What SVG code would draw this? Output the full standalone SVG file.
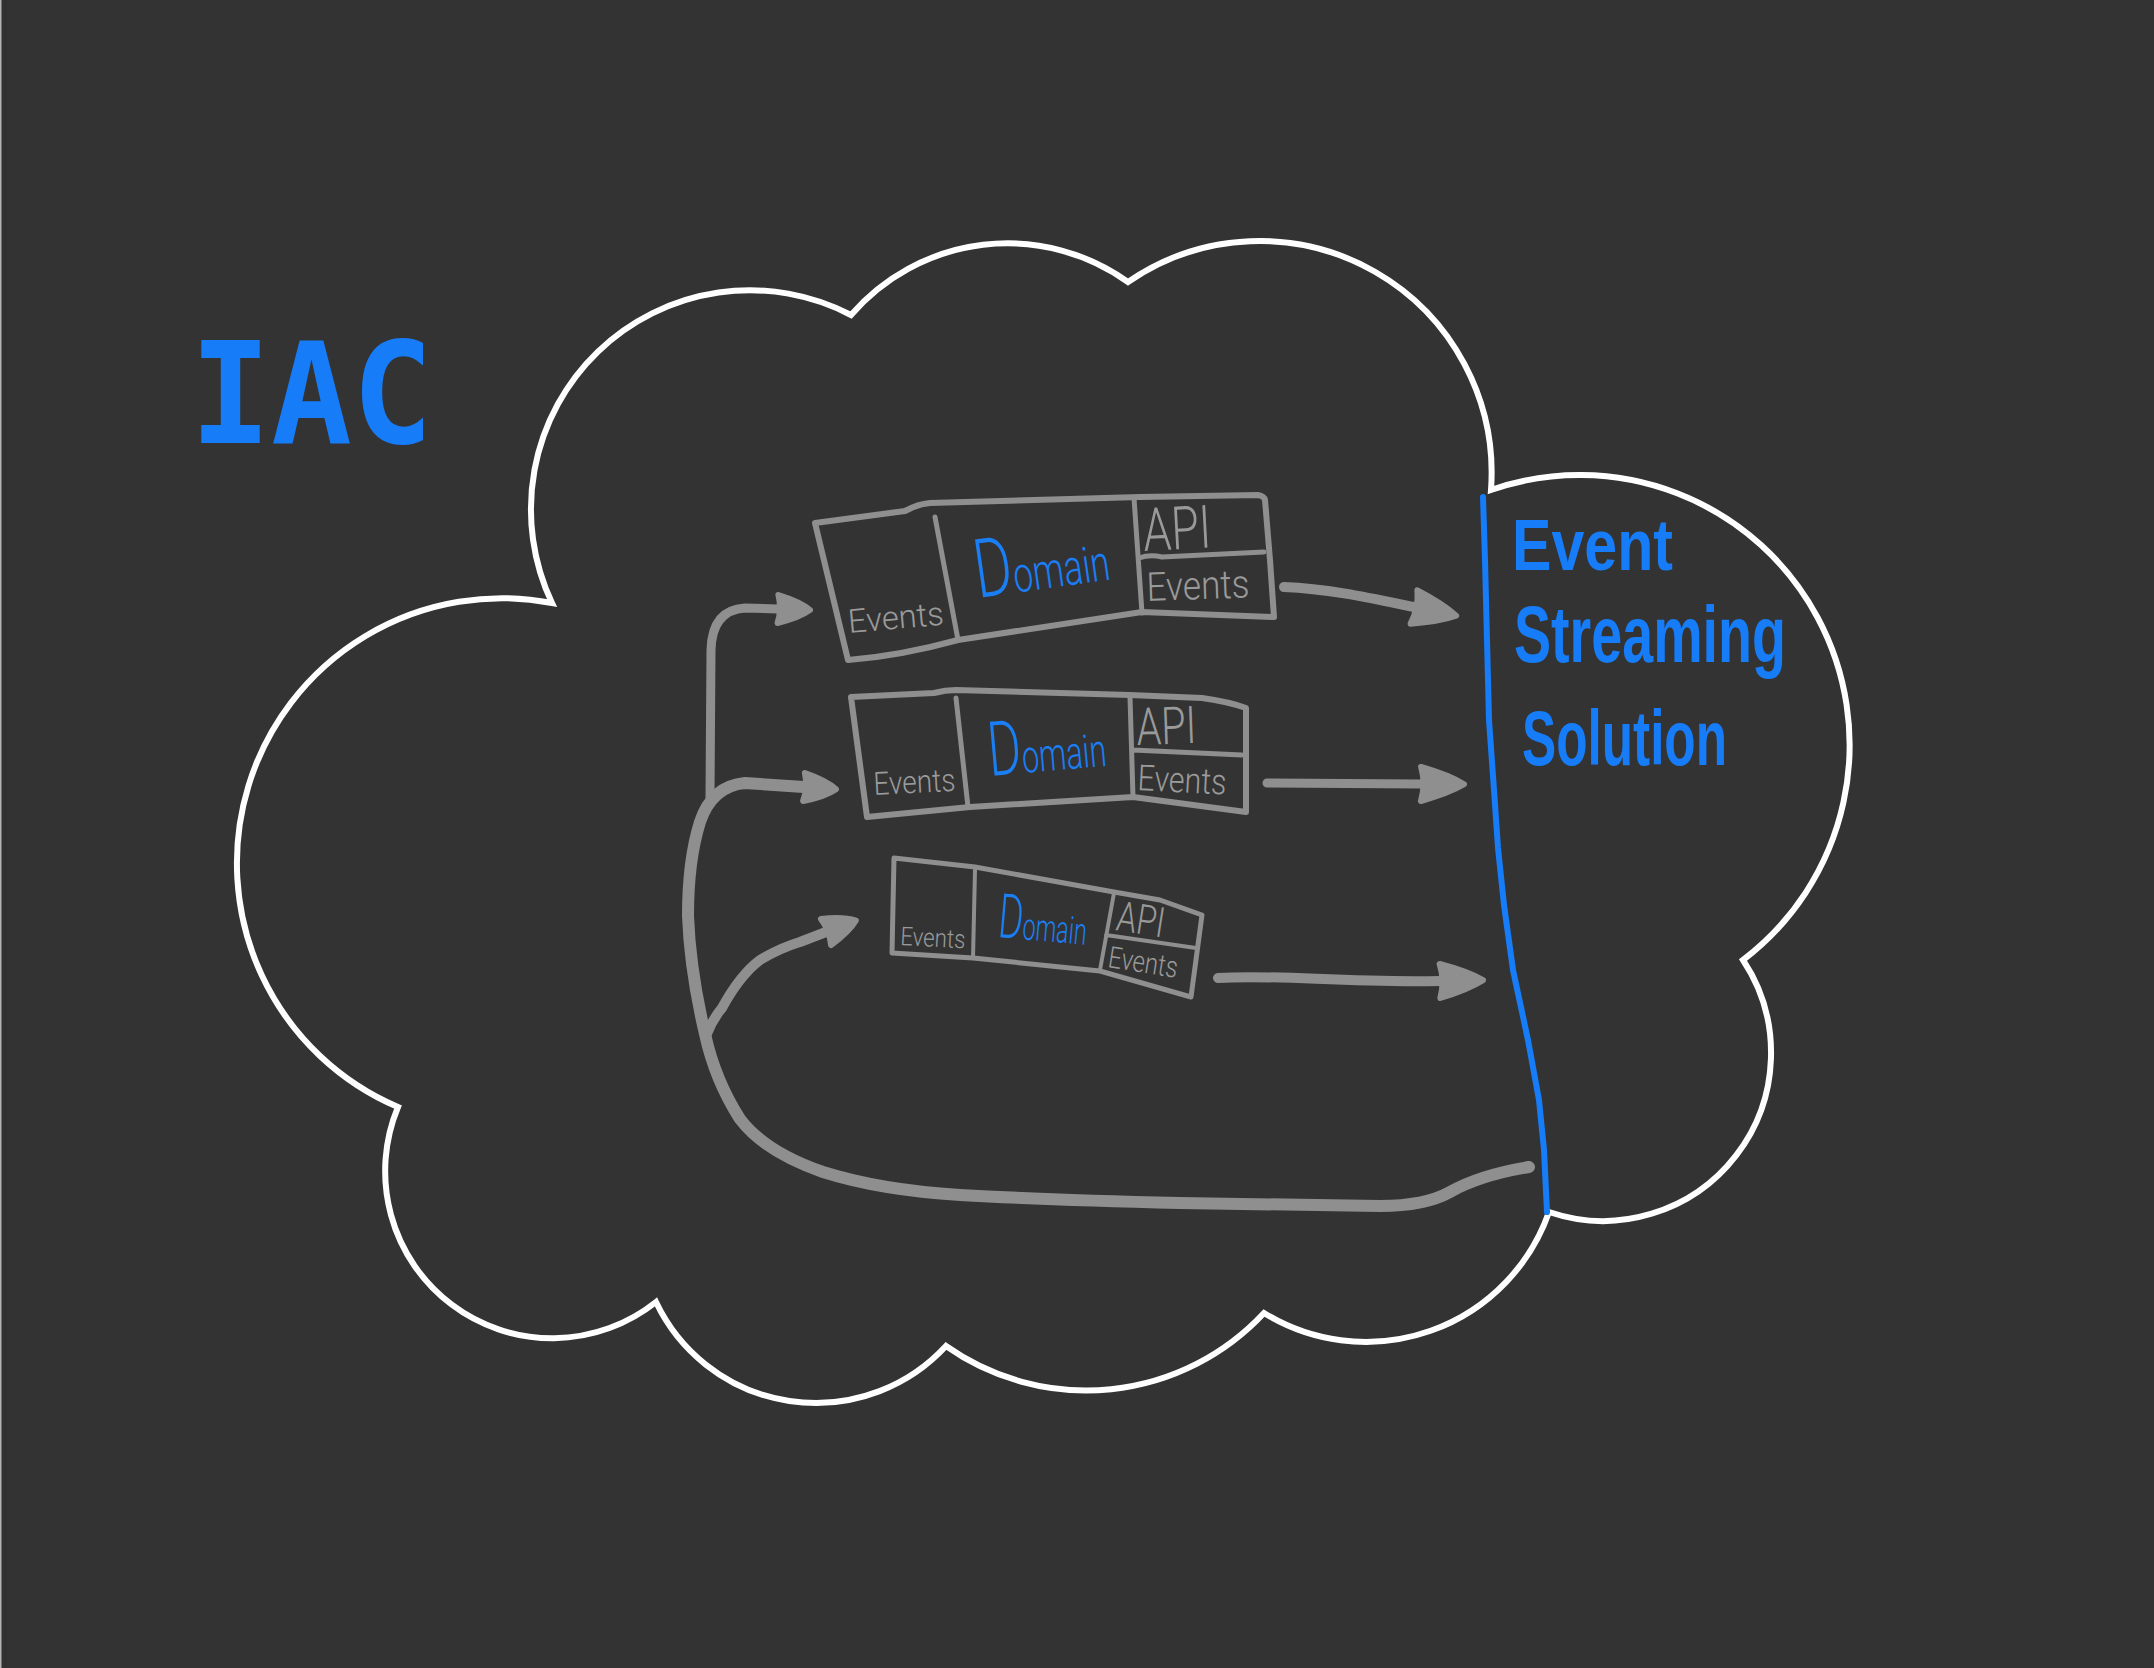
<svg xmlns="http://www.w3.org/2000/svg" width="2154" height="1668" viewBox="0 0 2154 1668">
<style>
.cloud{fill:none;stroke:#ffffff;stroke-width:6;stroke-linejoin:miter}
.box{fill:none;stroke:#8f8f8f;stroke-width:6;stroke-linejoin:round;stroke-linecap:round}
.div{fill:none;stroke:#8f8f8f;stroke-width:5;stroke-linecap:round}
.box3{stroke-width:5}
.gt{font-family:Roboto,"Liberation Sans",sans-serif;font-weight:300;fill:#9a9a9a}
.dom{font-family:Roboto,"Liberation Sans",sans-serif;font-weight:300;fill:#1a7ef5}
.blue{font-family:"Liberation Sans",Arial,sans-serif;font-weight:bold;fill:#167cf7}
.conn{fill:none;stroke:#8f8f8f;stroke-linecap:round;stroke-linejoin:round}
.bline{fill:none;stroke:#167cf7;stroke-width:6;stroke-linecap:round;stroke-linejoin:round}
</style>
<defs>
<marker id="headR" viewBox="-6 -26 60 52" markerWidth="60" markerHeight="52" refX="0" refY="0" markerUnits="userSpaceOnUse" orient="auto">
<path d="M0,-17 Q28,-9 43,0 Q28,9 0,17 Q5,0 0,-17 Z" fill="#8f8f8f" stroke="#8f8f8f" stroke-width="6" stroke-linejoin="round"/>
</marker>
<marker id="headL" viewBox="-6 -24 50 48" markerWidth="50" markerHeight="48" refX="0" refY="0" markerUnits="userSpaceOnUse" orient="auto">
<path d="M0,-14 Q22,-8 32,0 Q22,8 0,14 Q4,0 0,-14 Z" fill="#8f8f8f" stroke="#8f8f8f" stroke-width="6" stroke-linejoin="round"/>
</marker>
</defs>
<rect x="0" y="0" width="2154" height="1668" fill="#333333"/>
<rect x="0" y="0" width="7" height="1668" fill="#313131"/>
<rect x="0" y="0" width="1.5" height="1668" fill="#b4b4b4"/>

<g id="cloud">
<path class="cloud" d="M 552 603 A 219 219 0 0 1 851 315 A 207 207 0 0 1 1128 282 A 232 232 0 0 1 1491 490 A 270 270 0 0 1 1743 960 A 168 168 0 0 1 1549 1212 A 194 194 0 0 1 1264 1313 A 243 243 0 0 1 946 1346 A 177 177 0 0 1 656 1302 A 167 167 0 0 1 398 1107 A 265 265 0 0 1 552 603 Z"/>
</g>

<g id="iac-label">
<text class="blue" x="190" y="443" font-size="140" textLength="243" lengthAdjust="spacingAndGlyphs" style="font-family:'DejaVu Sans Mono','Liberation Mono',monospace">IAC</text>
</g>

<g id="event-streaming">
<path class="bline" d="M 1483 497 L 1485 560 L 1487 640 L 1489 720 L 1494 790 L 1498 848 L 1504 905 L 1513 970 L 1528 1040 L 1539 1100 L 1544 1150 L 1547 1212"/>
<text class="blue" x="1512" y="570" font-size="72" textLength="161" lengthAdjust="spacingAndGlyphs">Event</text>
<text class="blue" x="1514" y="662" font-size="80" textLength="272" lengthAdjust="spacingAndGlyphs">Streaming</text>
<text class="blue" x="1522" y="765" font-size="78" textLength="205" lengthAdjust="spacingAndGlyphs">Solution</text>
</g>

<g id="domain-1">
<path class="box" d="M 815 523 L 905 511 Q 918 504 930 503 L 1140 497 L 1258 495 Q 1264 496 1265 500 L 1270 560 L 1274 617 L 1142 612 L 958 640 Q 900 656 848 660 L 815 523 Z"/>
<path class="div" d="M 935 517 L 958 640 M 1134 498 L 1142 613 M 1139 558 Q 1150 554 1162 557 L 1264 552"/>
<text class="gt" x="849" y="633" font-size="33" textLength="96" lengthAdjust="spacingAndGlyphs" transform="rotate(-5 849 633)">Events</text>
<text class="dom" x="978" y="598" textLength="135" lengthAdjust="spacingAndGlyphs" transform="rotate(-8 978 598)"><tspan font-size="82">D</tspan><tspan font-size="50">omain</tspan></text>
<text class="gt" x="1144" y="551" font-size="60" textLength="68" lengthAdjust="spacingAndGlyphs" transform="rotate(-3 1144 551)">API</text>
<text class="gt" x="1147" y="601" font-size="40" textLength="103" lengthAdjust="spacingAndGlyphs" transform="rotate(-2 1147 601)">Events</text>
</g>

<g id="domain-2">
<path class="box" d="M 851 697 L 934 693 Q 945 690 956 690 L 1130 695 L 1202 698 Q 1230 702 1246 708 L 1246 812 L 1133 797 L 970 807 L 867 817 L 851 697 Z"/>
<path class="div" d="M 956 698 L 968 807 M 1130 697 L 1133 797 M 1133 750 L 1242 755"/>
<text class="gt" x="874" y="795" font-size="32" textLength="82" lengthAdjust="spacingAndGlyphs" transform="rotate(-3 874 795)">Events</text>
<text class="dom" x="990" y="776" textLength="118" lengthAdjust="spacingAndGlyphs" transform="rotate(-5 990 776)"><tspan font-size="76">D</tspan><tspan font-size="46">omain</tspan></text>
<text class="gt" x="1137" y="745" font-size="52" textLength="60" lengthAdjust="spacingAndGlyphs" transform="rotate(-2 1137 745)">API</text>
<text class="gt" x="1137" y="790" font-size="36" textLength="89" lengthAdjust="spacingAndGlyphs" transform="rotate(3 1137 790)">Events</text>
</g>

<g id="domain-3">
<path class="box box3" d="M 894 858 L 930 862 L 975 867 L 1114 892 L 1160 900 L 1202 915 L 1191 997 L 1100 971 L 973 958 L 892 953 L 894 858 Z"/>
<path class="div" style="stroke-width:4" d="M 975 870 L 973 958 M 1114 893 L 1100 970 M 1106 935 L 1196 948"/>
<text class="gt" x="900" y="945" font-size="26" textLength="65" lengthAdjust="spacingAndGlyphs" transform="rotate(3 900 945)">Events</text>
<text class="dom" x="997" y="937" textLength="89" lengthAdjust="spacingAndGlyphs" transform="rotate(5 997 937)"><tspan font-size="62">D</tspan><tspan font-size="38">omain</tspan></text>
<text class="gt" x="1115" y="930" font-size="42" textLength="48" lengthAdjust="spacingAndGlyphs" transform="rotate(9 1115 930)">API</text>
<text class="gt" x="1107" y="967" font-size="30" textLength="70" lengthAdjust="spacingAndGlyphs" transform="rotate(9 1107 967)">Events</text>
</g>

<g id="connectors">
<path class="conn" stroke-width="10" marker-end="url(#headR)" d="M 1284 587 C 1330 589 1370 598 1414 607"/>
<path class="conn" stroke-width="9" marker-end="url(#headR)" d="M 1267 783 L 1421 784"/>
<path class="conn" stroke-width="10" marker-end="url(#headR)" d="M 1218 978 C 1280 974 1340 983 1440 981"/>
<path class="conn" stroke-width="9" marker-end="url(#headL)" d="M 710 797 L 711 650 Q 712 610 745 608 L 778 609"/>
<path class="conn" stroke-width="12" marker-end="url(#headL)" d="M 1529 1167 Q 1480 1175 1450 1192 Q 1425 1206 1380 1206 L 1180 1203 Q 1050 1200 960 1195 Q 880 1190 823 1172 Q 765 1152 740 1119 Q 715 1080 705 1034 Q 690 970 688 916 Q 688 860 700 822 Q 712 786 745 783 L 804 787"/>
<path class="conn" stroke-width="10" marker-end="url(#headL)" d="M 706 1036 Q 712 1020 722 1008 Q 740 975 760 960 Q 780 948 800 942 L 826 932"/>
</g>
</svg>
